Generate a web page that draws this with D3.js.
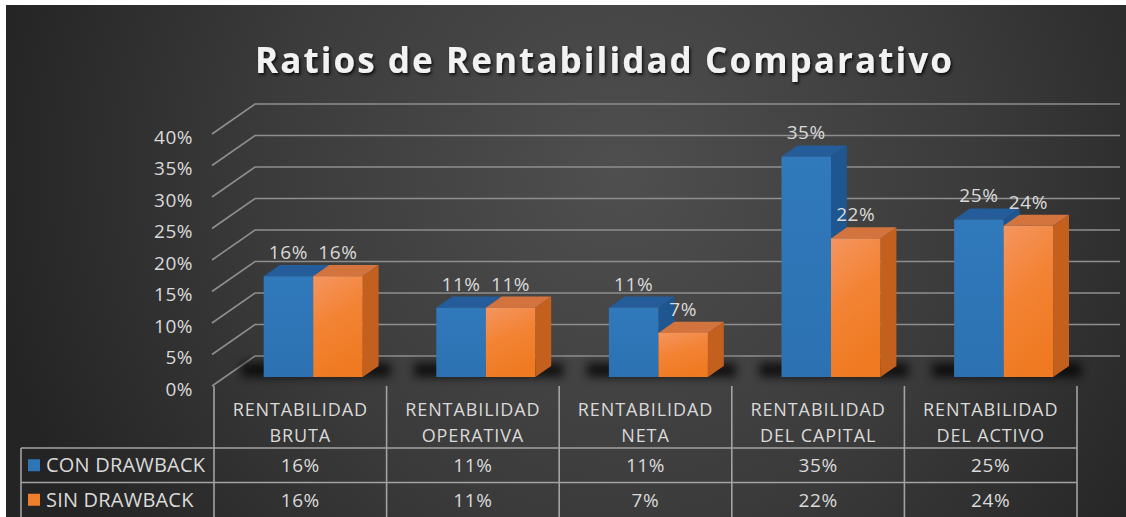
<!DOCTYPE html>
<html>
<head>
<meta charset="utf-8">
<script src="https://cdnjs.cloudflare.com/ajax/libs/d3/7.8.5/d3.min.js"></script>
<style>
  html, body { margin: 0; padding: 0; background: #fff; overflow: hidden; }
  text { font-family: "Open Sans", sans-serif; fill: #dadada; }
  .grid { stroke: #8e8e8e; stroke-width: 1.6; fill: none; }
  .tbl { stroke: #a3a3a3; stroke-width: 1.6; fill: none; }
</style>
</head>
<body>
<script>
// data
var categories = ["RENTABILIDAD BRUTA", "RENTABILIDAD OPERATIVA", "RENTABILIDAD NETA",
                  "RENTABILIDAD DEL CAPITAL", "RENTABILIDAD DEL ACTIVO"];
var series = ["CON DRAWBACK", "SIN DRAWBACK"];
var conDrawback = [0.16, 0.11, 0.11, 0.35, 0.25];
var sinDrawback = [0.16, 0.11, 0.07, 0.22, 0.24];
var yTicks = [0, 0.05, 0.10, 0.15, 0.20, 0.25, 0.30, 0.35, 0.40];
var title = "Ratios de Rentabilidad Comparativo";

var W = 1126, H = 517;
var depthX = 43, depthY = 30;          // back wall -> front edge of the floor
var backBottom = 356, backTop = 104, wallRight = 1120;
var barPlane = 0.7, barDepth = 0.37;   // fraction of the depth

var fmt = d3.format(".0%");

var svg = d3.select("body").append("svg")
    .attr("width", W).attr("height", H);

var defs = svg.append("defs");
var bg = defs.append("radialGradient").attr("id", "bg")
    .attr("gradientUnits", "userSpaceOnUse")
    .attr("cx", 620).attr("cy", 170).attr("r", 640);
bg.append("stop").attr("offset", 0).attr("stop-color", "#4f4f4f");
bg.append("stop").attr("offset", 0.55).attr("stop-color", "#3b3b3b");
bg.append("stop").attr("offset", 1).attr("stop-color", "#242424");

var og = defs.append("linearGradient").attr("id", "orangeFront")
    .attr("x1", 0).attr("y1", 0).attr("x2", 0.3).attr("y2", 1);
og.append("stop").attr("offset", 0).attr("stop-color", "#f49560");
og.append("stop").attr("offset", 0.5).attr("stop-color", "#f38334");
og.append("stop").attr("offset", 1).attr("stop-color", "#ef7a22");

var bgr = defs.append("linearGradient").attr("id", "blueFront")
    .attr("x1", 0).attr("y1", 0).attr("x2", 0).attr("y2", 1);
bgr.append("stop").attr("offset", 0).attr("stop-color", "#3079bb");
bgr.append("stop").attr("offset", 1).attr("stop-color", "#2c72b2");

defs.append("filter").attr("id", "blur")
    .attr("x", "-50%").attr("y", "-200%").attr("width", "200%").attr("height", "500%")
  .append("feGaussianBlur").attr("stdDeviation", 5);

var ts = defs.append("filter").attr("id", "tshadow")
    .attr("x", "-5%").attr("y", "-30%").attr("width", "110%").attr("height", "160%");
ts.append("feDropShadow").attr("dx", 1.5).attr("dy", 2).attr("stdDeviation", 1.8)
    .attr("flood-color", "#000").attr("flood-opacity", 0.8);

svg.append("rect").attr("x", 6).attr("y", 5).attr("width", W - 6).attr("height", H - 5)
    .attr("fill", "url(#bg)");

// title
svg.append("text")
    .attr("x", 255).attr("y", 73)
    .attr("textLength", 697).attr("lengthAdjust", "spacing")
    .style("font-size", "35px").style("font-weight", 700)
    .style("fill", "#f2f2f2")
    .attr("filter", "url(#tshadow)")
    .text(title);

// scales
var yBack = d3.scaleLinear().domain([0, 0.40]).range([backBottom, backTop]);
var xFront = d3.scaleBand().domain(categories).range([214, 1077]);
var pairW = 99;
var xSub = d3.scaleBand().domain(series).range([0, pairW]);

// gridlines: diagonal on the side wall, then along the back wall
var grid = svg.append("g");
yTicks.forEach(function (v) {
  var yb = yBack(v);
  grid.append("path").attr("class", "grid")
      .attr("d", "M" + (255 - depthX) + "," + (yb + depthY) + "L255," + yb + "L" + wallRight + "," + yb);
});

// y tick labels
svg.append("g").selectAll("text").data(yTicks).join("text")
    .attr("x", 193).attr("y", function (d) { return yBack(d) + depthY + 3; })
    .attr("dy", "0.35em").attr("text-anchor", "end")
    .style("font-size", "19px").style("letter-spacing", "0.5px")
    .text(fmt);

// bars
var shiftX = depthX * (1 - barPlane), shiftY = -depthY * (1 - barPlane);
var bx = depthX * barDepth, by = -depthY * barDepth;
var pxPerUnit = (backBottom - backTop) / 0.40;

function barData(i) {
  return [conDrawback[i], sinDrawback[i]].map(function (v, s) {
    var x0 = xFront(categories[i]) + shiftX + (xFront.bandwidth() - pairW) / 2 + xSub(series[s]);
    var x1 = x0 + xSub.bandwidth();
    var yb = backBottom + depthY + shiftY;
    var yt = yb - v * pxPerUnit;
    return { v: v, s: s, x0: x0, x1: x1, yb: yb, yt: yt };
  });
}

var cols = [
  { front: "url(#blueFront)", side: "#1e5690", top: "#245d9a" },
  { front: "url(#orangeFront)", side: "#c3601d", top: "#d3743f" }
];

var bars = svg.append("g");
categories.forEach(function (c, i) {
  var bd = barData(i);
  // floor shadow
  bars.append("rect")
      .attr("x", bd[0].x0 - 22).attr("y", bd[0].yb - 14)
      .attr("width", bd[1].x1 - bd[0].x0 + bx + 34).attr("height", 14)
      .attr("fill", "#000").attr("opacity", 0.75)
      .attr("filter", "url(#blur)");
});
categories.forEach(function (c, i) {
  var bd = barData(i);
  bd.forEach(function (b) {
    var g = bars.append("g");
    g.append("path").attr("fill", cols[b.s].side)
        .attr("d", "M" + b.x1 + "," + b.yt + "l" + bx + "," + by + "L" + (b.x1 + bx) + "," + (b.yb + by) + "L" + b.x1 + "," + b.yb + "Z");
    g.append("path").attr("fill", cols[b.s].top)
        .attr("d", "M" + b.x0 + "," + b.yt + "L" + b.x1 + "," + b.yt + "l" + bx + "," + by + "L" + (b.x0 + bx) + "," + (b.yt + by) + "Z");
    g.append("rect").attr("fill", cols[b.s].front)
        .attr("x", b.x0).attr("y", b.yt).attr("width", b.x1 - b.x0).attr("height", b.yb - b.yt);
  });
});
// value labels on top
categories.forEach(function (c, i) {
  barData(i).forEach(function (b) {
    svg.append("text")
        .attr("x", (b.x0 + b.x1) / 2).attr("y", b.yt + by - 6)
        .attr("text-anchor", "middle")
        .style("font-size", "19px").style("letter-spacing", "0.6px")
        .text(fmt(b.v));
  });
});

// data table
var rowTop = 448, rowH = 34.5, tblLeft = 21;
var tbl = svg.append("g");
var edges = [xFront.range()[0]].concat(categories.map(function (c) { return xFront(c) + xFront.bandwidth(); }));
edges.forEach(function (x) {
  tbl.append("line").attr("class", "tbl")
      .attr("x1", x).attr("x2", x).attr("y1", backBottom + depthY).attr("y2", H);
});
[0, 1].forEach(function (r) {
  tbl.append("line").attr("class", "tbl")
      .attr("x1", tblLeft).attr("x2", edges[edges.length - 1])
      .attr("y1", rowTop + r * rowH).attr("y2", rowTop + r * rowH);
});
tbl.append("line").attr("class", "tbl")
    .attr("x1", tblLeft).attr("x2", tblLeft).attr("y1", rowTop).attr("y2", H);

// category headers, two lines
categories.forEach(function (c) {
  var k = c.indexOf(" ");
  var t = tbl.append("text").attr("text-anchor", "middle")
      .style("font-size", "18px").style("letter-spacing", "0.9px");
  var cx = xFront(c) + xFront.bandwidth() / 2;
  t.append("tspan").attr("x", cx).attr("y", 416).text(c.slice(0, k));
  t.append("tspan").attr("x", cx).attr("y", 442).text(c.slice(k + 1));
});

// legend rows + values
var swatch = ["#2e75b6", "#f07f2c"];
[conDrawback, sinDrawback].forEach(function (vals, r) {
  var cy = rowTop + r * rowH + rowH / 2;
  tbl.append("rect").attr("x", 28).attr("y", cy - 6).attr("width", 12).attr("height", 12)
      .attr("fill", swatch[r]);
  tbl.append("text").attr("x", 46).attr("y", cy).attr("dy", "0.36em")
      .style("font-size", "20px").style("letter-spacing", "0.2px")
      .text(series[r]);
  vals.forEach(function (v, i) {
    tbl.append("text")
        .attr("x", xFront(categories[i]) + xFront.bandwidth() / 2)
        .attr("y", cy).attr("dy", "0.36em").attr("text-anchor", "middle")
        .style("font-size", "19px").style("letter-spacing", "0.6px")
        .text(fmt(v));
  });
});
</script>
</body>
</html>
